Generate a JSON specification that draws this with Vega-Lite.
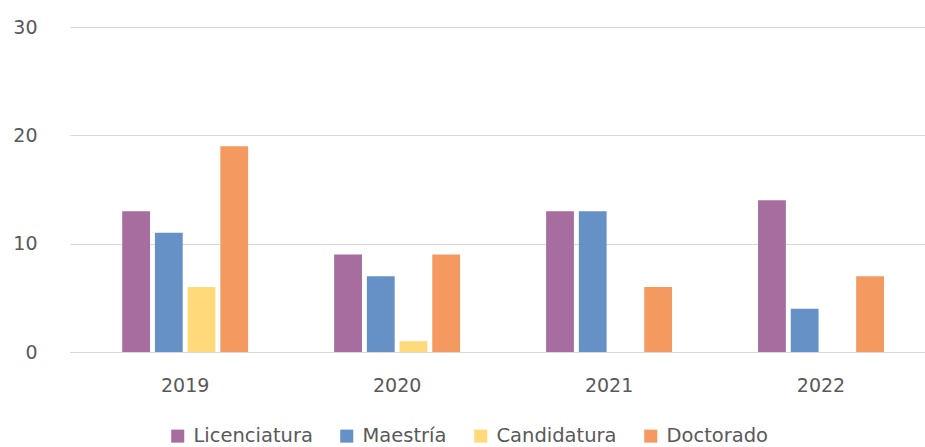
{
  "$schema": "https://vega.github.io/schema/vega-lite/v6.json",
  "width": 855,
  "height": 325,
  "autosize": {"type": "none"},
  "padding": {"left": 70, "top": 27, "right": 0, "bottom": 95},
  "background": "white",
  "config": {"view": {"stroke": null}, "font": "DejaVu Sans"},
  "data": {"values": [
    {"year": "2019", "nivel": "Licenciatura", "valor": 13},
    {"year": "2019", "nivel": "Maestría", "valor": 11},
    {"year": "2019", "nivel": "Candidatura", "valor": 6},
    {"year": "2019", "nivel": "Doctorado", "valor": 19},
    {"year": "2020", "nivel": "Licenciatura", "valor": 9},
    {"year": "2020", "nivel": "Maestría", "valor": 7},
    {"year": "2020", "nivel": "Candidatura", "valor": 1},
    {"year": "2020", "nivel": "Doctorado", "valor": 9},
    {"year": "2021", "nivel": "Licenciatura", "valor": 13},
    {"year": "2021", "nivel": "Maestría", "valor": 13},
    {"year": "2021", "nivel": "Candidatura", "valor": 0},
    {"year": "2021", "nivel": "Doctorado", "valor": 6},
    {"year": "2022", "nivel": "Licenciatura", "valor": 14},
    {"year": "2022", "nivel": "Maestría", "valor": 4},
    {"year": "2022", "nivel": "Candidatura", "valor": 0},
    {"year": "2022", "nivel": "Doctorado", "valor": 7}
  ]},
  "mark": {"type": "bar"},
  "encoding": {
    "x": {
      "field": "year", "type": "nominal",
      "scale": {"paddingInner": 0.406, "paddingOuter": 0.22, "align": 0.56},
      "axis": {
        "title": null, "labelAngle": 0, "ticks": false,
        "domainColor": "#d9d9d9", "domainWidth": 1,
        "labelFontSize": 19, "labelColor": "#595959", "labelPadding": 24, "labelFont": "DejaVu Sans"
      }
    },
    "xOffset": {
      "field": "nivel", "type": "nominal",
      "sort": ["Licenciatura", "Maestría", "Candidatura", "Doctorado"],
      "scale": {"paddingInner": 0.15, "paddingOuter": 0}
    },
    "y": {
      "field": "valor", "type": "quantitative",
      "scale": {"domain": [0, 30], "nice": false},
      "axis": {
        "title": null, "values": [0, 10, 20, 30], "ticks": false, "domain": false,
        "gridColor": "#d9d9d9", "gridWidth": 1,
        "labelFontSize": 19, "labelColor": "#595959", "labelPadding": 33, "labelFont": "DejaVu Sans"
      }
    },
    "color": {
      "field": "nivel", "type": "nominal",
      "sort": ["Licenciatura", "Maestría", "Candidatura", "Doctorado"],
      "scale": {
        "domain": ["Licenciatura", "Maestría", "Candidatura", "Doctorado"],
        "range": ["#A66D9E", "#6591C7", "#FFD97A", "#F49A60"]
      },
      "legend": {
        "title": null, "orient": "none", "direction": "horizontal",
        "legendX": 98, "legendY": 399,
        "symbolType": "square", "symbolSize": 170, "symbolStrokeWidth": 0, "symbolOpacity": 1,
        "labelFontSize": 19.5, "labelColor": "#595959", "labelFont": "DejaVu Sans",
        "labelOffset": 6, "columnPadding": 24
      }
    }
  }
}
